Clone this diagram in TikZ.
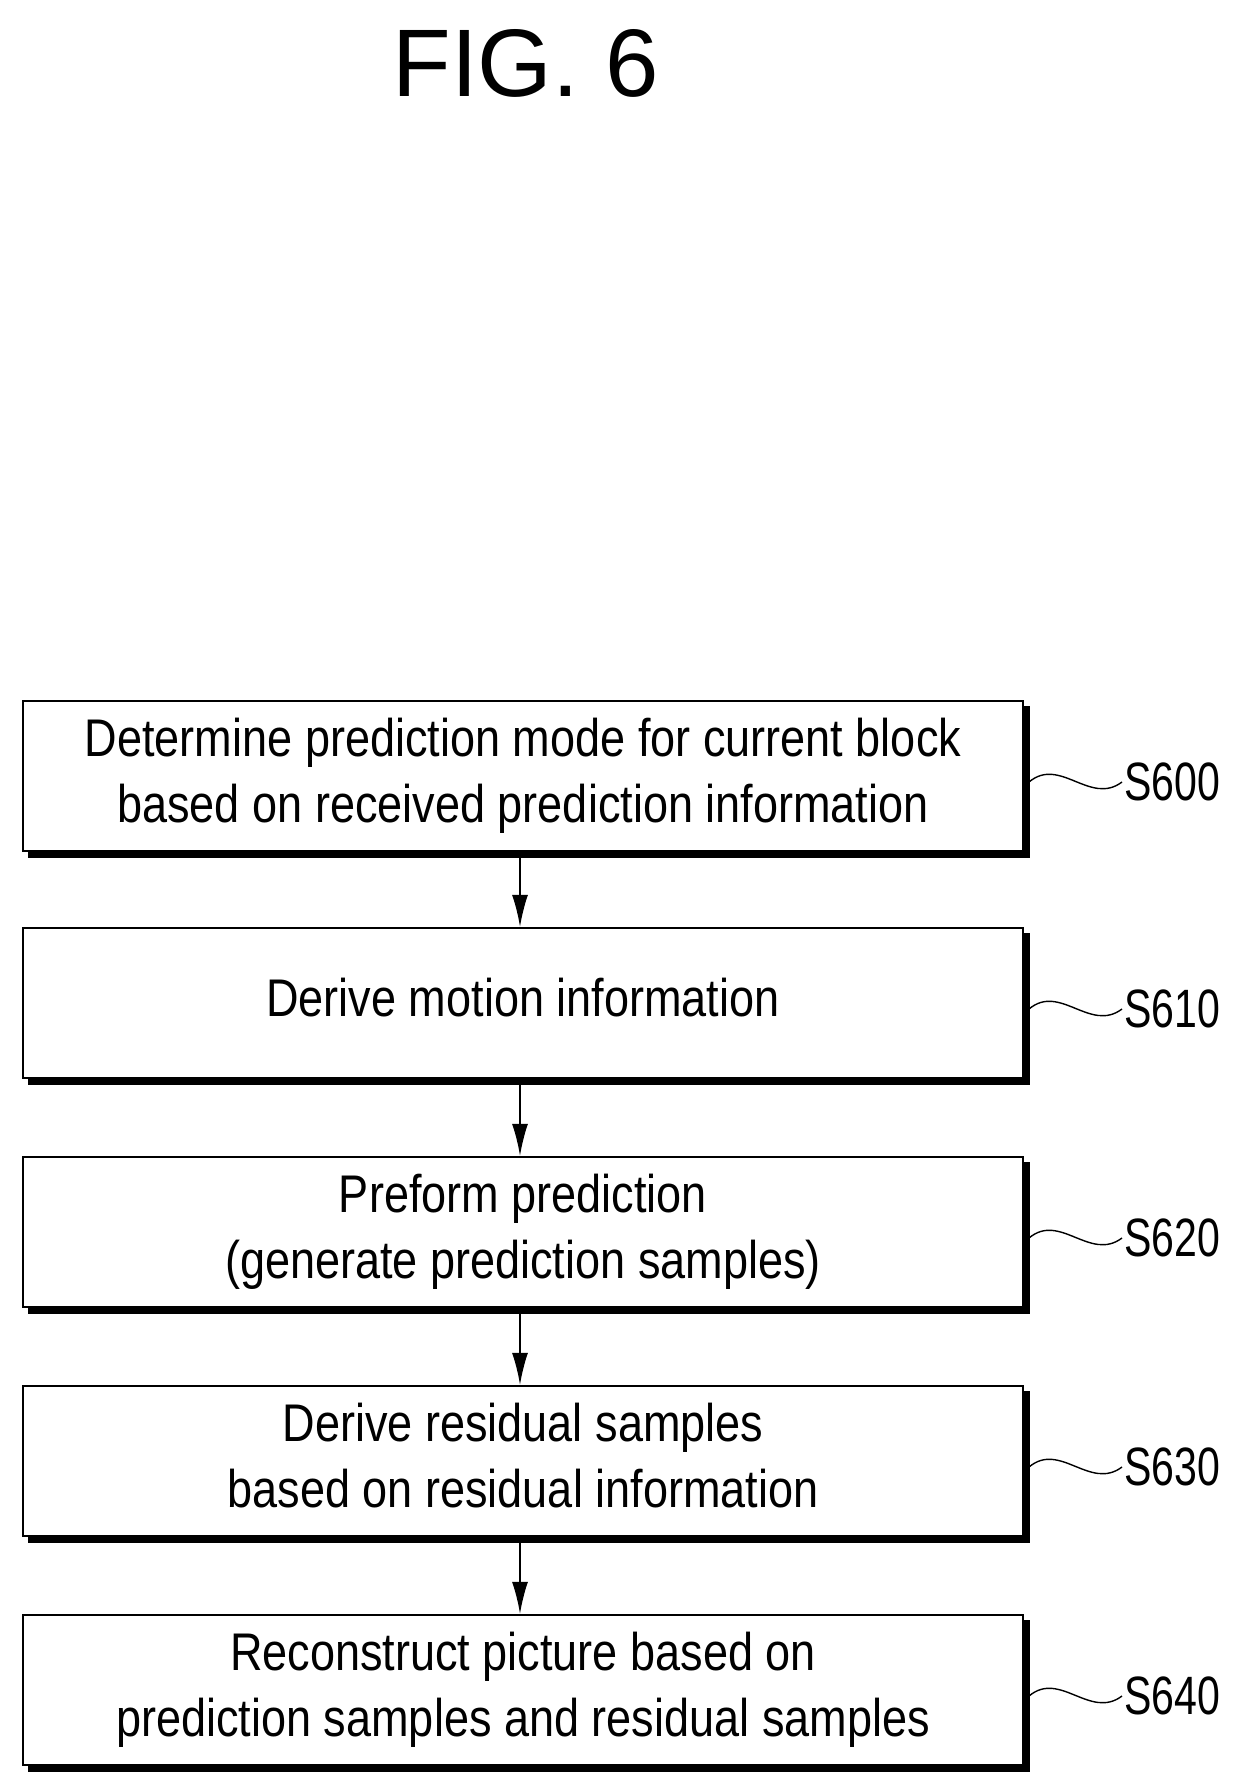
\documentclass[tikz,border=0pt]{standalone}
\usepackage{fontspec}
\setmainfont{Liberation Sans}
\newfontfamily\narrowf[FakeStretch=0.85]{Liberation Sans}
\newfontfamily\labf[FakeStretch=0.76]{Liberation Sans}
\begin{document}
\begin{tikzpicture}[x=1pt,y=-1pt,
  box/.style={draw,line width=2.2pt,fill=white,minimum width=1000pt,minimum height=150pt,align=center,
    font=\narrowf\fontsize{53}{66}\selectfont,
    preaction={fill=black,draw=black,transform canvas={shift={(6pt,-6pt)}}}},
  lab/.style={font=\labf\fontsize{54}{60}\selectfont,anchor=west,inner sep=2pt},
  arr/.style={line width=1.8pt,-{Latex[length=32pt,width=16pt]}}]
\usetikzlibrary{arrows.meta}
\useasboundingbox (0,0) rectangle (1244,1788);
\node at (526,63) {\fontsize{96}{100}\selectfont FIG. 6};
\foreach \n/\y/\t/\s in {a/776/{Determine prediction mode for current block\\based on received prediction information}/S600,
  b/1003/{Derive motion information}/S610,
  c/1232/{Preform prediction\\(generate prediction samples)}/S620,
  d/1461/{Derive residual samples\\based on residual information}/S630,
  e/1690/{Reconstruct picture based on\\prediction samples and residual samples}/S640}{
  \node[box] (\n) at (523,\y) {\raisebox{-14pt}{\begin{tabular}{@{}c@{}}\t\end{tabular}}};
  \coordinate (w\n) at (1029,\y+6);
  \node[lab] (l\n) at (1122,\y+6) {\s};
  \draw[line width=1.4pt] (w\n) .. controls (1060,\y-20) and (1090,\y+30) .. (l\n.west);
}
\foreach \p/\q in {a/b,b/c,c/d,d/e}{\draw[arr] (\p.south -| 520,0) -- (\q.north -| 520,0);}
\end{tikzpicture}
\end{document}
